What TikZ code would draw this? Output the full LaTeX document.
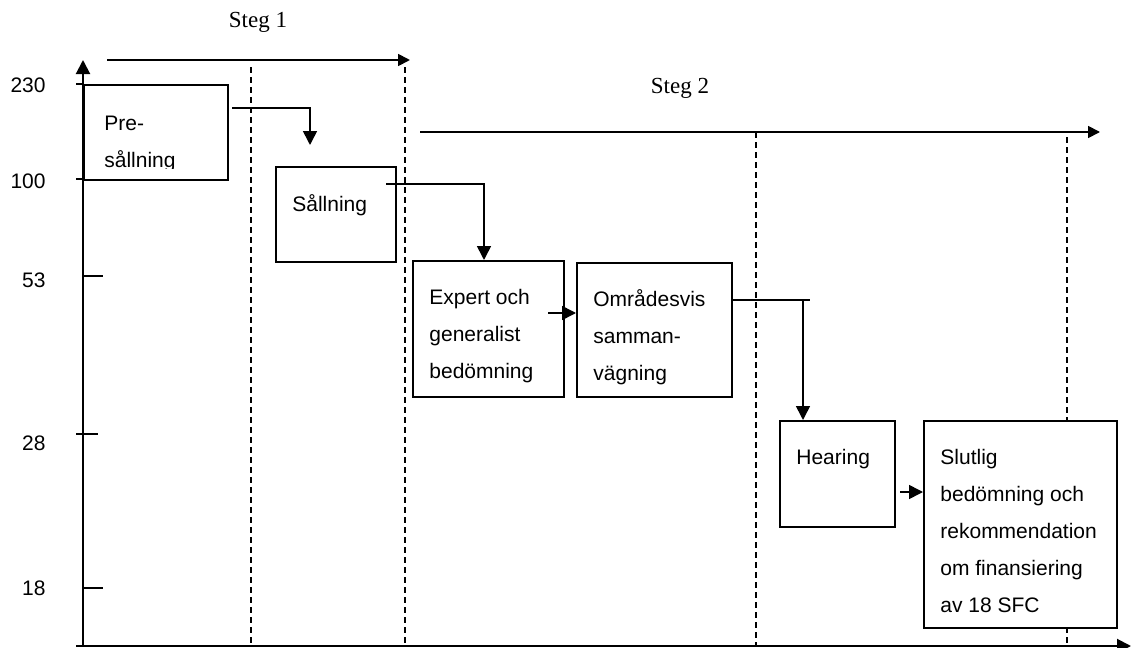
\documentclass[tikz,border=0pt]{standalone}
\usepackage{fontspec}
\setmainfont{Liberation Serif}
\setsansfont{Liberation Sans}
\usetikzlibrary{positioning,arrows.meta}
\tikzset{
  box/.style={draw, line width=1pt, fill=white, inner sep=0pt, anchor=north west},
  txt/.style={inner sep=0pt, anchor=north west, align=left, font=\sffamily\fontsize{10.5}{18.5}\selectfont},
  ticklbl/.style={anchor=east, inner sep=0pt, font=\sffamily\fontsize{10.5}{12}\selectfont},
  steg/.style={inner sep=0pt, font=\fontsize{11.5}{14}\selectfont},
  axisline/.style={line width=1pt, -{Triangle[length=7pt, width=7pt]}},
  phase/.style={line width=0.9pt, -{Triangle[length=6pt, width=6pt]}},
  arr/.style={line width=0.8pt, -{Triangle[length=7pt, width=7pt]}},
  guide/.style={line width=0.8pt, dash pattern=on 3pt off 2pt}}

\begin{document}
\begin{tikzpicture}[x=0.5pt, y=-0.5pt]
\useasboundingbox (0,0) rectangle (1131,648);
% phases
\node[steg] (s1) at (258,22) {Steg 1};
\node[steg] (s2) at (680,88) {Steg 2};
\coordinate (s1a) at (107,60); \coordinate (s1b) at (410,60);
\coordinate (s2a) at (420,132); \coordinate (s2b) at (1100,132);
\draw[phase] (s1a) -- (s1b);
\draw[phase] (s2a) -- (s2b);
% dashed guides
\draw[guide] (251,67) -- (251,646);
\draw[guide] (405,67) -- (405,646);
\draw[guide] (756,132) -- (756,646);
\draw[guide] (1067,137) -- (1067,646);
% axes
\coordinate (o) at (83,646);
\draw[axisline] (76,646) -- (1131,646);
\draw[axisline] (o) -- (83,60);
\draw[line width=0.8pt] (76,84) -- (83,84) (76,179) -- (83,179) (83,276) -- (103,276)
  (76,434) -- (98,434) (83,588) -- (103,588);
\node[ticklbl] (l230) at (46,85) {230};
\node[ticklbl] (l100) at (46,181) {100};
\node[ticklbl] (l53) at (46,280) {53};
\node[ticklbl] (l28) at (46,443) {28};
\node[ticklbl] (l18) at (46,588) {18};
% boxes
\node[box, minimum width=72pt, minimum height=47.5pt] (pre) at (83,84) {};
\begin{scope}
\clip (83,84) rectangle (227,168);
\node[txt] (tpre) at ([shift={(21,32)}]pre.north west) {Pre-\\sållning};
\end{scope}
\node[box, minimum width=60pt, minimum height=47.5pt] (sall) at (275,166) {};
\node[txt] (tsall) at ([shift={(17,28)}]sall.north west) {Sållning};
\node[box, minimum width=75.5pt, minimum height=68pt] (expert) at (412,260) {};
\node[txt] (texpert) at ([shift={(17,29)}]expert.north west) {Expert och\\generalist\\bedömning};
\node[box, minimum width=77.5pt, minimum height=67pt] (omrade) at (576,262) {};
\node[txt] (tomrade) at ([shift={(17,27)}]omrade.north west) {Områdesvis\\samman-\\vägning};
\node[box, minimum width=57.5pt, minimum height=53pt] (hearing) at (779,420) {};
\node[txt] (thearing) at ([shift={(17,29)}]hearing.north west) {Hearing};
\node[box, minimum width=96.5pt, minimum height=103.5pt] (slut) at (923,420) {};
\node[txt] (tslut) at ([shift={(17,29)}]slut.north west) {Slutlig\\bedömning och\\rekommendation\\om finansiering\\av 18 SFC};
% connectors
\coordinate (p1) at (310,145);
\draw[arr] ([shift={(3,24)}]pre.north east) -| (p1);
\draw[arr] ([shift={(-11,18)}]sall.north east) -| ([xshift=-2.25pt]expert.north);
\draw[arr] ([shift={(-17,53)}]expert.north east) coordinate (e1) -- (e1 -| omrade.west);
\draw[line width=0.8pt] ([yshift=-19pt]omrade.north east) coordinate (o1) -- ++(77,0);
\draw[arr] (o1) -| ([xshift=12pt]hearing.north west);
\draw[arr] ([shift={(4,72)}]hearing.north east) coordinate (h1) -- (h1 -| slut.west);
\end{tikzpicture}
\end{document}
